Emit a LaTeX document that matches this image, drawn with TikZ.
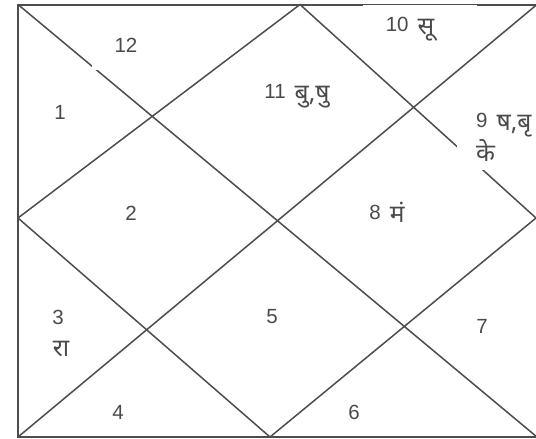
\documentclass[tikz,border=0pt]{standalone}
\usepackage{fontspec}
\setmainfont{Liberation Sans}
\newfontfamily\devfont[Script=Devanagari, Scale=1.2]{Noto Sans}
\definecolor{chartline}{HTML}{4D4D4D}
\definecolor{chartText}{HTML}{4A4A4A}
\newcommand{\gapsp}{\hspace{9pt}}
\newcommand{\dev}[1]{\raisebox{-2.5pt}{\devfont #1}}
\tikzset{
  house/.style={text=chartText, inner sep=0pt, font=\fontsize{20.5}{24}\selectfont},
  mask/.style={fill=white, draw=none},
  frame/.style={draw=chartline, line width=2pt},
  divider/.style={draw=chartline, line width=1.5pt}
}
\begin{document}
\begin{tikzpicture}[x=1pt, y=-1pt]
  \useasboundingbox (0,0) rectangle (536,439);
  \clip (0,0) rectangle (536,439);

  % Corners of the chart and tips of the diamond
  \coordinate (tl) at (18,4.5);
  \coordinate (tr) at (537,4.5);
  \coordinate (bl) at (18,437);
  \coordinate (br) at (537,437);
  \coordinate (top) at (300,4.5);
  \coordinate (left) at (18,218);
  \coordinate (bot) at (270,437);
  \coordinate (right) at (536,218);

  % Outer frame and the two diagonals
  \draw[frame] (18,4.5) rectangle (539,437);
  \draw[divider] (tl) -- (br);
  \draw[divider] (bl) -- (tr);

  % Inner diamond
  \draw[divider] (top) -- (left) -- (bot) -- (right) -- cycle;

  % White label boxes that cut the lines
  \fill[mask] (92,20.5) rectangle (160,69.5);
  \fill[mask] (363,4.6) rectangle (477,53.5);
  \fill[mask] (457,112) rectangle (540,170);
  \fill[mask] (30,290) rectangle (93.5,372.5);

  % Houses
  \node[house] (h12) at (126,45) {12};
  \node[house] (h1) at (60,112) {1};
  \node[house] (h11) at (297,96) {11\gapsp\dev{बु,षु}};
  \node[house] (h10) at (410,29) {10\gapsp\dev{सू}};
  \node[house, align=left, anchor=north west] (h9) at (476,113) {9\gapsp\dev{ष,बृ}\\[2pt]\dev{के}};
  \node[house] (h2) at (131,213) {2};
  \node[house] (h8) at (387,212) {8\gapsp\dev{मं}};
  \node[house] (h3) at (58,317) {3};
  \node[house] (h3b) at (61,349) {\dev{रा}};
  \node[house] (h5) at (272,317) {5};
  \node[house] (h7) at (482,326) {7};
  \node[house] (h4) at (118,412) {4};
  \node[house] (h6) at (354,412) {6};
\end{tikzpicture}
\end{document}
